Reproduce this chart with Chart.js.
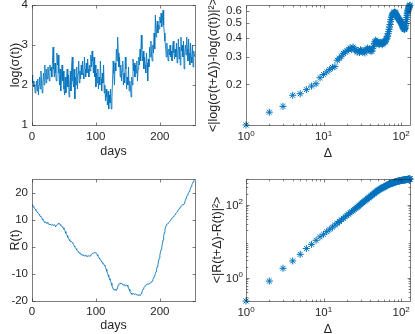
<!DOCTYPE html>
<html>
<head>
<meta charset="utf-8">
<script src="https://cdn.jsdelivr.net/npm/chart.js@4.4.0/dist/chart.umd.min.js"></script>
<style>
  html, body { margin: 0; padding: 0; background: #fff; }
  #fig { position: relative; width: 415px; height: 334px; overflow: hidden; }
  #fig canvas { position: absolute; }
</style>
</head>
<body>
<div id="fig">
  <canvas id="sigma" width="200" height="167" style="left:0;top:0"></canvas>
  <canvas id="sigmaSF" width="215" height="167" style="left:200px;top:0"></canvas>
  <canvas id="ret" width="200" height="167" style="left:0;top:167px"></canvas>
  <canvas id="retSF" width="215" height="167" style="left:200px;top:167px"></canvas>
</div>
<script>
// log(sigma(t)), one value per day
const logSigma = [
  2.25, 2.05, 2.1, 1.95, 2.0, 1.8, 1.95, 2.1, 1.85, 2.15, 1.75, 2.0, 2.2, 1.9, 2.35, 2.05,
  1.8, 2.1, 2.3, 2.0, 2.5, 2.25, 2.05, 2.4, 2.15, 2.45, 2.3, 2.1, 2.5, 2.35, 2.45, 2.2,
  2.6, 2.95, 2.4, 2.2, 2.55, 2.3, 2.1, 2.8, 2.5, 2.75, 2.3, 2.0, 2.4, 1.85, 2.2, 2.5,
  2.1, 2.35, 1.9, 1.75, 2.2, 1.8, 2.1, 2.4, 1.95, 2.25, 1.7, 2.0, 2.35, 1.85, 2.5, 2.7,
  2.1, 1.95, 2.4, 1.65, 2.2, 2.0, 2.45, 1.9, 2.3, 2.6, 2.05, 2.35, 2.15, 2.5, 2.25, 2.6,
  2.3, 2.15, 2.7, 2.4, 2.2, 2.55, 2.3, 2.65, 2.4, 2.2, 2.5, 2.35, 2.75, 2.45, 2.85, 2.6,
  2.3, 2.7, 2.2, 2.5, 1.95, 2.3, 2.05, 2.4, 1.9, 2.2, 2.0, 2.6, 2.15, 1.85, 2.3, 2.05,
  2.5, 1.8, 2.0, 1.6, 1.9, 1.7, 1.5, 1.85, 1.4, 1.75, 1.55, 1.9, 1.4, 1.65, 2.1, 2.6,
  2.3, 2.0, 2.55, 2.35, 2.9, 2.6, 3.2, 2.8, 2.45, 2.7, 2.2, 2.5, 2.1, 2.35, 2.6, 2.0,
  2.3, 2.05, 2.7, 2.4, 1.9, 2.2, 2.0, 2.45, 1.85, 2.1, 1.95, 1.7, 2.2, 2.0, 2.65, 2.35,
  2.55, 2.2, 2.5, 2.3, 2.6, 2.1, 2.4, 2.7, 2.5, 2.9, 2.6, 3.25, 2.9, 2.6, 2.85, 2.4,
  2.7, 2.5, 2.3, 2.8, 2.55, 2.1, 2.65, 2.45, 2.95, 2.7, 3.1, 2.75, 2.6, 3.0, 2.8, 3.3,
  2.9, 3.75, 3.2, 3.45, 3.6, 3.3, 3.5, 3.4, 3.7, 3.55, 3.8, 3.45, 3.65, 3.87, 3.5, 3.3,
  3.1, 2.95, 2.7, 3.05, 2.8, 2.6, 2.9, 2.75, 3.0, 2.7, 2.85, 2.6, 2.95, 3.1, 2.8, 2.65,
  2.9, 2.7, 3.05, 2.55, 2.8, 3.15, 2.65, 2.95, 2.5, 3.2, 2.85, 3.0, 2.7, 3.1, 2.4, 2.8,
  3.0, 2.75, 3.2, 2.9, 2.6, 3.15, 2.8, 2.5, 3.05, 2.7, 2.55, 3.0, 2.45, 2.85, 2.75, 2.7
];

// R(t), one value per day
const retR = [
  15.5, 15.2, 14.8, 14.6, 14.1, 13.9, 13.5, 13.2, 12.8, 12.6, 12.3, 11.9, 11.7, 11.2, 11.0, 10.8,
  10.3, 9.9, 9.6, 9.2, 9.0, 9.1, 8.8, 8.7, 8.9, 8.6, 8.4, 8.3, 8.1, 8.2, 8.0, 8.1,
  8.3, 7.9, 8.0, 8.2, 7.7, 7.5, 7.9, 8.0, 8.3, 8.6, 8.4, 8.5, 8.2, 7.9, 7.6, 7.4,
  7.2, 7.0, 6.5, 6.1, 5.6, 5.0, 4.6, 4.1, 3.5, 3.1, 2.7, 2.2, 2.0, 2.1, 1.7, 1.5,
  1.3, 0.8, 0.3, 0.0, -0.4, -0.7, -1.0, -1.5, -1.8, -2.0, -2.2, -2.5, -2.7, -2.8, -3.0, -3.1,
  -3.0, -3.2, -3.4, -3.3, -3.1, -3.3, -3.5, -3.6, -3.4, -3.3, -3.5, -3.4, -3.0, -2.8, -2.6, -2.4,
  -2.3, -2.2, -2.1, -2.2, -2.3, -2.5, -2.9, -3.3, -3.7, -4.2, -4.5, -4.9, -5.2, -5.5, -5.9, -6.2,
  -6.4, -6.7, -7.0, -7.6, -8.3, -9.0, -9.8, -10.4, -11.0, -11.7, -12.2, -12.8, -13.5, -14.2, -14.9, -15.6,
  -15.8, -15.9, -16.0, -15.8, -16.1, -15.4, -14.8, -14.2, -13.8, -13.5, -13.4, -13.6, -13.5, -13.7, -13.9, -14.1,
  -14.0, -14.2, -14.4, -14.3, -14.1, -14.2, -14.6, -15.2, -15.7, -16.3, -16.9, -17.2, -17.5, -17.4, -17.2, -17.3,
  -17.6, -17.5, -17.4, -17.6, -17.7, -17.8, -17.9, -17.7, -17.8, -17.9, -17.6, -17.2, -16.6, -16.0, -15.5, -15.1,
  -14.8, -14.5, -14.2, -13.9, -13.8, -13.7, -13.8, -13.6, -13.5, -13.4, -13.3, -13.0, -12.6, -12.1, -11.6, -11.1,
  -10.6, -9.9, -9.1, -8.2, -7.3, -6.4, -5.3, -4.2, -3.1, -2.0, -1.0, -0.1, 1.1, 2.5, 3.9, 5.2,
  6.4, 7.3, 7.9, 8.3, 8.5, 8.7, 9.0, 9.3, 9.6, 9.9, 10.2, 10.5, 10.8, 11.0, 11.3, 11.6,
  11.9, 12.3, 12.6, 12.9, 13.3, 13.6, 14.0, 14.3, 14.6, 14.9, 15.2, 15.4, 15.6, 15.5, 15.9, 16.5,
  17.2, 17.9, 18.5, 19.0, 19.5, 19.9, 20.4, 21.0, 21.6, 22.2, 22.8, 23.4, 23.9, 24.4, 24.8, 25.0
];

// <|log(sigma(t+D))-log(sigma(t))|^2>, lag D = 1..130
const sfSigma = [
  0.109, 0.132, 0.144, 0.170, 0.174, 0.185, 0.195, 0.202, 0.221, 0.232,
  0.241, 0.250, 0.258, 0.261, 0.287, 0.296, 0.305, 0.318, 0.325, 0.330,
  0.336, 0.346, 0.338, 0.350, 0.335, 0.338, 0.324, 0.330, 0.322, 0.336,
  0.331, 0.324, 0.330, 0.320, 0.333, 0.338, 0.345, 0.336, 0.340, 0.330,
  0.334, 0.328, 0.343, 0.352, 0.368, 0.378, 0.388, 0.380, 0.378, 0.368,
  0.372, 0.362, 0.370, 0.376, 0.368, 0.372, 0.362, 0.370, 0.372, 0.381,
  0.376, 0.382, 0.378, 0.392, 0.398, 0.410, 0.412, 0.428, 0.440, 0.456,
  0.472, 0.490, 0.510, 0.528, 0.545, 0.556, 0.565, 0.572, 0.578, 0.583,
  0.587, 0.590, 0.588, 0.585, 0.580, 0.572, 0.566, 0.560, 0.553, 0.547,
  0.542, 0.537, 0.532, 0.528, 0.524, 0.520, 0.517, 0.513, 0.508, 0.503,
  0.498, 0.492, 0.486, 0.480, 0.475, 0.470, 0.466, 0.462, 0.458, 0.455,
  0.457, 0.462, 0.470, 0.482, 0.497, 0.512, 0.528, 0.545, 0.562, 0.577,
  0.590, 0.601, 0.610, 0.618, 0.626, 0.633, 0.640, 0.646, 0.651, 0.655
];

// <|R(t+D)-R(t)|^2>, lag D = 1..130
const sfR = [
  0.23, 0.81, 1.81, 2.88, 4.37, 6.3, 8.2, 10.6, 13.2, 15.5,
  18.3, 21.2, 24.3, 27.6, 31.1, 34.8, 38.6, 42.6, 46.8, 51.1,
  55.5, 60.0, 64.6, 69.6, 74.9, 80.2, 85.6, 91.2, 96.9, 102.6,
  108.6, 114.7, 120.9, 127.3, 134.0, 140.7, 147.2, 154.0, 161.0, 168.0,
  175.5, 183.0, 190.6, 198.2, 206.0, 213.5, 221.0, 229.0, 237.0, 245.0,
  251.5, 258.0, 264.5, 271.0, 277.0, 283.5, 289.5, 295.5, 301.0, 306.5,
  312.5, 318.5, 324.5, 330.5, 336.5, 342.0, 348.0, 353.5, 359.0, 364.5,
  369.5, 374.0, 378.5, 383.0, 387.5, 391.5, 395.5, 399.5, 403.0, 406.5,
  410.5, 414.0, 417.5, 421.0, 424.5, 427.5, 430.5, 433.5, 436.5, 439.5,
  442.0, 444.5, 447.0, 449.5, 452.0, 454.5, 456.5, 458.5, 460.5, 462.5,
  464.5, 466.5, 468.5, 470.0, 472.0, 473.5, 475.0, 476.5, 478.0, 479.5,
  481.0, 482.5, 484.0, 485.5, 487.0, 488.5, 490.0, 491.5, 493.0, 494.5,
  496.0, 497.5, 499.0, 500.5, 502.0, 503.5, 505.0, 506.0, 507.0, 508.0
];

// tick values
const dayTicks = [0, 100, 200];
const sigmaTicks = [1, 2, 3, 4];
const retTicks = [-20, -10, 0, 10, 20];
const lagTicks = [1, 10, 100];
const sfSigmaTicks = [0.2, 0.3, 0.4, 0.5, 0.6];
const sfRTicks = [1, 100];
const lagMinor = [2, 3, 4, 5, 6, 7, 8, 9, 20, 30, 40, 50, 60, 70, 80, 90];
const sfRMinor = [0.3, 0.4, 0.5, 0.6, 0.7, 0.8, 0.9, 2, 3, 4, 5, 6, 7, 8, 9,
                  20, 30, 40, 50, 60, 70, 80, 90, 200, 300, 400, 500];

const FONT = '"Liberation Sans", Arial, Helvetica, sans-serif';
const INK = '#262626';
const BLUE = '#0072BD';

// MATLAB-like box with inward ticks, plus 10^n labels
const matlabAxes = {
  id: 'matlabAxes',
  afterDraw(chart, args, opts) {
    const { ctx, chartArea: a } = chart;
    const L = Math.round(a.left) + 0.5, R = Math.round(a.right) + 0.5;
    const T = Math.round(a.top) + 0.5, B = Math.round(a.bottom) + 0.5;
    ctx.save();
    ctx.strokeStyle = 'rgba(38,38,38,0.6)';
    ctx.lineWidth = 1;
    ctx.beginPath();
    ctx.rect(L, T, R - L, B - T);
    const seg = (x1, y1, x2, y2) => { ctx.moveTo(x1, y1); ctx.lineTo(x2, y2); };
    ['x', 'y'].forEach(k => {
      const s = chart.scales[k];
      const minor = (opts.minor && opts.minor[k]) || [];
      const major = s.ticks.map(t => t.value);
      [[major, 3], [minor, 1.8]].forEach(([vals, len]) => vals.forEach(v => {
        const p = Math.round(s.getPixelForValue(v)) + 0.5;
        if (k === 'x') { seg(p, B, p, B - len); seg(p, T, p, T + len); }
        else { seg(L, p, L + len, p); seg(R, p, R - len, p); }
      }));
    });
    ctx.stroke();

    const big = '11.5px ' + FONT, small = '8px ' + FONT;
    ctx.fillStyle = INK;
    ctx.textAlign = 'left';
    ctx.textBaseline = 'alphabetic';
    (opts.pow || []).forEach(k => {
      const s = chart.scales[k];
      s.ticks.forEach(t => {
        const e = String(Math.round(Math.log10(t.value)));
        const p = s.getPixelForValue(t.value);
        ctx.font = big; const wb = ctx.measureText('10').width;
        ctx.font = small; const we = ctx.measureText(e).width;
        if (k === 'x') {
          const x0 = p - (wb + we) / 2, yb = a.bottom + 15.3;
          ctx.font = big; ctx.fillText('10', x0, yb);
          ctx.font = small; ctx.fillText(e, x0 + wb, yb - 4.5);
        } else {
          const x1 = a.left - 3, yb = p + 4;
          ctx.font = small; ctx.fillText(e, x1 - we, yb - 4.5);
          ctx.font = big; ctx.fillText('10', x1 - we - wb, yb);
        }
      });
    });
    ctx.restore();
  }
};

function axis(o) {
  return {
    type: o.type || 'linear',
    min: o.min,
    max: o.max,
    grid: { display: false, drawTicks: false },
    border: { display: false },
    ticks: {
      display: !o.pow,
      color: INK,
      font: { family: FONT, size: 11.5 },
      padding: o.tickPad,
      autoSkip: false,
      maxRotation: 0,
      callback: v => String(v)
    },
    title: {
      display: true,
      text: o.title,
      color: INK,
      font: { family: FONT, size: 12.5 },
      padding: { top: o.titlePad, bottom: o.titlePad }
    },
    afterBuildTicks: s => { s.ticks = o.ticks.map(v => ({ value: v })); },
    afterFit: s => {
      if (s.isHorizontal()) { s.height = o.size; s.paddingLeft = 0; s.paddingRight = 0; }
      else { s.width = o.size; s.paddingTop = 0; s.paddingBottom = 0; }
    }
  };
}

function makeChart(id, type, points, dsStyle, x, y, pad, plug) {
  return new Chart(document.getElementById(id), {
    type: type,
    data: { datasets: [Object.assign({ data: points }, dsStyle)] },
    options: {
      responsive: false,
      animation: false,
      devicePixelRatio: 1,
      layout: { padding: pad },
      plugins: { legend: { display: false }, tooltip: { enabled: false }, matlabAxes: plug },
      scales: { x: axis(x), y: axis(y) }
    },
    plugins: [matlabAxes]
  });
}

const lineStyle = { borderColor: BLUE, borderWidth: 0.85, pointRadius: 0, tension: 0, fill: false };
const starStyle = {
  pointStyle: 'star', pointRadius: 3.5, borderColor: BLUE, backgroundColor: BLUE,
  borderWidth: 1, clip: false
};

const sigmaPts = logSigma.map((v, i) => ({ x: i, y: v }));
const retPts = retR.map((v, i) => ({ x: i, y: v }));
const sfSigmaPts = sfSigma.map((v, i) => ({ x: i + 1, y: v }));
const sfRPts = sfR.map((v, i) => ({ x: i + 1, y: v }));

makeChart('sigma', 'line', sigmaPts, lineStyle,
  { min: 0, max: 255, ticks: dayTicks, title: 'days', size: 42, tickPad: 5, titlePad: 8 },
  { min: 1, max: 4, ticks: sigmaTicks, title: 'log(σ(t))', size: 32, tickPad: 4, titlePad: 8 },
  { left: 0, top: 5, right: 5, bottom: 0 }, {});

makeChart('sigmaSF', 'scatter', sfSigmaPts, starStyle,
  { type: 'logarithmic', min: 1, max: 130, ticks: lagTicks, pow: true, title: 'Δ', size: 42, tickPad: 5, titlePad: 5.5 },
  { type: 'logarithmic', min: 0.109, max: 0.656, ticks: sfSigmaTicks, title: '<|log(σ(t+Δ))-log(σ(t))|²>', size: 46, tickPad: 4, titlePad: 6 },
  { left: 0, top: 5, right: 4, bottom: 0 },
  { pow: ['x'], minor: { x: lagMinor } });

makeChart('ret', 'line', retPts, lineStyle,
  { min: 0, max: 255, ticks: dayTicks, title: 'days', size: 33, tickPad: 3.5, titlePad: 0.5 },
  { min: -20, max: 25, ticks: retTicks, title: 'R(t)', size: 32, tickPad: 4, titlePad: 8 },
  { left: 0, top: 12, right: 5, bottom: 0 }, {});

makeChart('retSF', 'scatter', sfRPts, starStyle,
  { type: 'logarithmic', min: 1, max: 130, ticks: lagTicks, pow: true, title: 'Δ', size: 33, tickPad: 3.5, titlePad: -3 },
  { type: 'logarithmic', min: 0.23, max: 508, ticks: sfRTicks, pow: true, title: '<|R(t+Δ)-R(t)|²>', size: 46, tickPad: 4, titlePad: 10.5 },
  { left: 0, top: 12, right: 4, bottom: 0 },
  { pow: ['x', 'y'], minor: { x: lagMinor, y: sfRMinor } });
</script>
</body>
</html>
